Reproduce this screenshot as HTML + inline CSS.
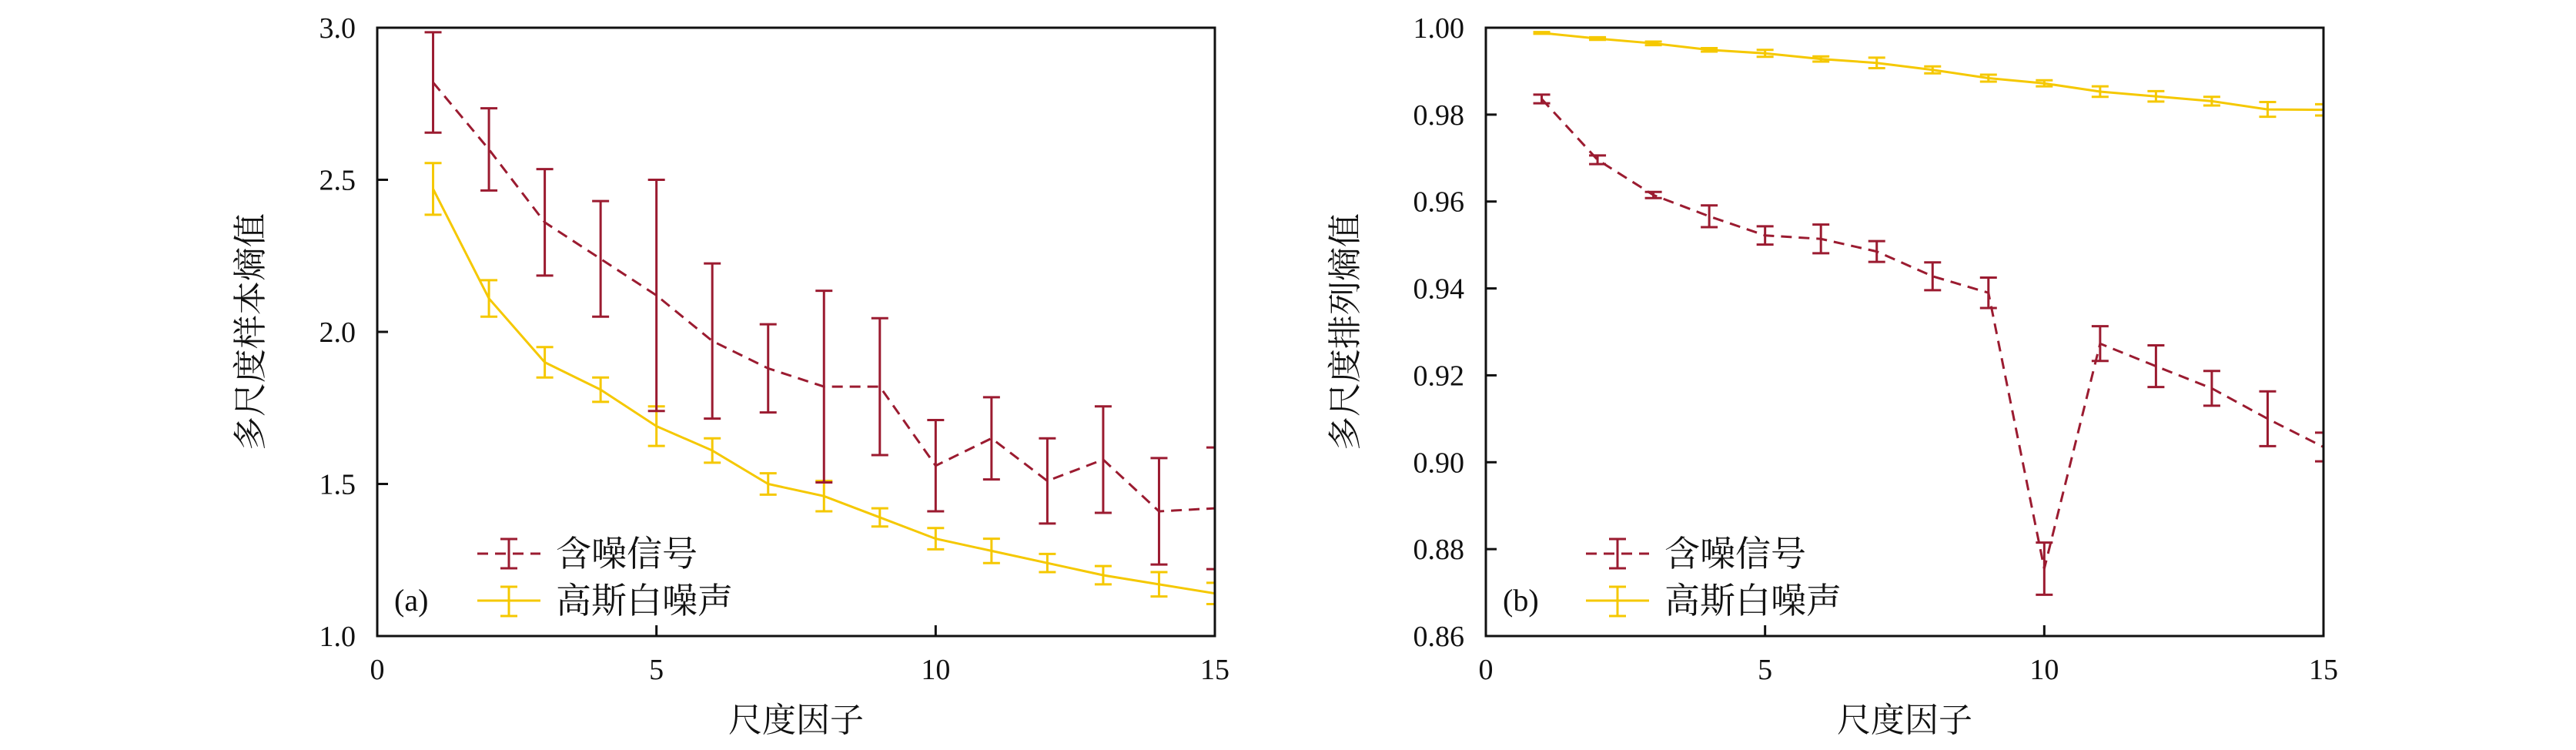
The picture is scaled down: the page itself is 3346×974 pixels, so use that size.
<!DOCTYPE html>
<html><head><meta charset="utf-8"><style>
html,body{margin:0;padding:0;background:#fff;}
svg{display:block;}
text{font-family:"Liberation Serif","Noto Serif CJK SC",serif;fill:#111;}
</style></head><body>
<svg id="chart" width="3346" height="974" viewBox="0 0 3346 974" xmlns="http://www.w3.org/2000/svg"></svg>
<script>
const scales = [1,2,3,4,5,6,7,8,9,10,11,12,13,14,15];
const aNoisyMean = [2.82,2.60,2.36,2.24,2.12,1.97,1.88,1.82,1.82,1.56,1.65,1.51,1.58,1.41,1.42];
const aNoisyErr  = [0.165,0.135,0.175,0.19,0.38,0.255,0.145,0.315,0.225,0.15,0.135,0.14,0.175,0.175,0.20];
const aWhiteMean = [2.47,2.11,1.90,1.81,1.69,1.61,1.50,1.46,1.39,1.32,1.28,1.24,1.20,1.17,1.14];
const aWhiteErr  = [0.085,0.06,0.05,0.04,0.065,0.04,0.035,0.05,0.03,0.035,0.04,0.03,0.03,0.04,0.035];
const bNoisyMean = [0.9836,0.9696,0.9615,0.9566,0.9522,0.9514,0.9485,0.9428,0.9390,0.8755,0.9273,0.9221,0.9170,0.9100,0.9035];
const bNoisyErr  = [0.001,0.001,0.0007,0.0025,0.0021,0.0033,0.0024,0.0032,0.0035,0.006,0.004,0.0048,0.004,0.0063,0.0033];
const bWhiteMean = [0.9988,0.9975,0.9964,0.9949,0.9941,0.9928,0.9919,0.9903,0.9884,0.9872,0.9853,0.9842,0.9831,0.9812,0.9811];
const bWhiteErr  = [0.0002,0.0003,0.0004,0.0004,0.0008,0.0006,0.0012,0.0008,0.0008,0.0007,0.0012,0.0012,0.001,0.0017,0.0013];
const xTicks = [0,5,10,15];
const aYTicks = [1.0,1.5,2.0,2.5,3.0];
const bYTicks = [0.86,0.88,0.90,0.92,0.94,0.96,0.98,1.00];

const RED="#9b1b30", YEL="#f5c800";
const svg=document.getElementById('chart');
const NS="http://www.w3.org/2000/svg";
function mk(tag,attrs,parent){const e=document.createElementNS(NS,tag);for(const k in attrs)e.setAttribute(k,attrs[k]);(parent||svg).appendChild(e);return e;}

function panel(p){
  const g=mk('g',{});
  
  
  const L=p.left,R=p.right,T=36,B=826;
  const xs=v=>L+(v-0)/(15-0)*(R-L);
  const ys=v=>B-(v-p.ymin)/(p.ymax-p.ymin)*(B-T);
  const cp=mk('clipPath',{id:'clip'+p.name},g);
  mk('rect',{x:L,y:T-30,width:R-L,height:B-T+30},cp);
  const tmp=mk('g',{'clip-path':`url(#clip${p.name})`},g);
  function seriesIn(mean,err,color,dash,nm){
    const s2=mk('g',{},tmp);
    
    
    const pts=scales.map((s,i)=>xs(s)+','+ys(mean[i])).join(' ');
    const pl=mk('polyline',{points:pts,fill:'none',stroke:color,'stroke-width':3,'stroke-dasharray':dash||'none'},s2);
    
    
    scales.forEach((s,i)=>{
      const x=xs(s),y1=ys(mean[i]+err[i]),y2=ys(mean[i]-err[i]);
      const eb=mk('path',{d:`M${x},${y1}V${y2}M${x-11},${y1}H${x+11}M${x-11},${y2}H${x+11}`,stroke:color,'stroke-width':3,fill:'none'},s2);
      
      
    });
  }
  seriesIn(p.wm,p.we,YEL,null,'white-noise-series');
  seriesIn(p.nm,p.ne,RED,'14 9','noisy-signal-series');
  const fr=mk('rect',{x:L,y:T,width:R-L,height:B-T,fill:'none',stroke:'#111','stroke-width':3},g);
  
  
  xTicks.forEach(t=>{
    const x=xs(t);
    mk('line',{x1:x,y1:B,x2:x,y2:B-14,stroke:'#111','stroke-width':3},g);
    const tx=mk('text',{x:x,y:882,'font-size':38,'text-anchor':'middle'},g);
    tx.textContent=String(t);
    
    
  });
  p.yt.forEach(t=>{
    const y=ys(t);
    mk('line',{x1:L,y1:y,x2:L+14,y2:y,stroke:'#111','stroke-width':3},g);
    const tx=mk('text',{x:L-28,y:y+13,'font-size':38,'text-anchor':'end'},g);
    tx.textContent=t.toFixed(p.dec);
    
    
  });
  const xt=mk('text',{x:(L+R)/2,y:950,'font-size':44,'text-anchor':'middle'},g);
  xt.textContent='尺度因子';
  
  
  const yt=mk('text',{x:0,y:0,'font-size':44,'text-anchor':'middle',transform:`translate(${p.ytx},${(T+B)/2}) rotate(-90)`},g);
  yt.textContent=p.ytitle;
  
  
  const lx=L+130;
  const le1=mk('g',{},g);
  
  
  mk('line',{x1:lx,y1:719,x2:lx+82,y2:719,stroke:RED,'stroke-width':3,'stroke-dasharray':'14 9'},le1);
  mk('path',{d:`M${lx+41},700V738M${lx+30},700H${lx+52}M${lx+30},738H${lx+52}`,stroke:RED,'stroke-width':3,fill:'none'},le1);
  const t1=mk('text',{x:lx+102,y:735,'font-size':46},le1);t1.textContent='含噪信号';
  const le2=mk('g',{},g);
  
  
  mk('line',{x1:lx,y1:780,x2:lx+82,y2:780,stroke:YEL,'stroke-width':3},le2);
  mk('path',{d:`M${lx+41},762V800M${lx+30},762H${lx+52}M${lx+30},800H${lx+52}`,stroke:YEL,'stroke-width':3,fill:'none'},le2);
  const t2=mk('text',{x:lx+102,y:796,'font-size':46},le2);t2.textContent='高斯白噪声';
  const pl=mk('text',{x:L+22,y:793,'font-size':40},g);
  pl.textContent=p.label;
  
  
}
panel({name:'panel-a',left:490,right:1578,ymin:1.0,ymax:3.0,yt:aYTicks,dec:1,nm:aNoisyMean,ne:aNoisyErr,wm:aWhiteMean,we:aWhiteErr,ytitle:'多尺度样本熵值',ytx:340,label:'(a)'});
panel({name:'panel-b',left:1930,right:3018,ymin:0.86,ymax:1.00,yt:bYTicks,dec:2,nm:bNoisyMean,ne:bNoisyErr,wm:bWhiteMean,we:bWhiteErr,ytitle:'多尺度排列熵值',ytx:1762,label:'(b)'});
</script>
</body></html>
